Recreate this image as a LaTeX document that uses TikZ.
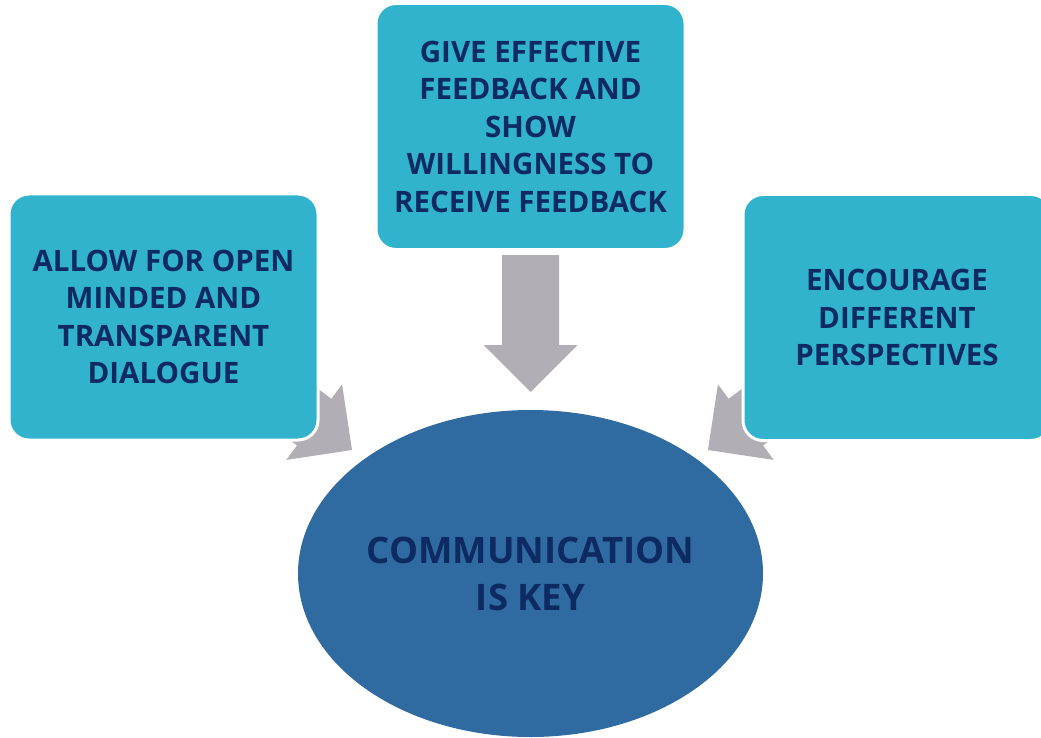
\documentclass[tikz,border=0pt]{standalone}
\usepackage{fontspec}
\setmainfont{Open Sans}
\usetikzlibrary{shapes.geometric}
\definecolor{boxcyan}{HTML}{31B3CE}
\definecolor{navy}{HTML}{0D2A62}
\definecolor{ovalblue}{HTML}{2F6BA0}
\definecolor{arrowgrey}{HTML}{B1AFB5}
\begin{document}
\begin{tikzpicture}[x=1pt,y=1pt,
  topicbox/.style={draw=white, line width=3pt, fill=boxcyan, rounded corners=20pt,
    minimum width=309pt, minimum height=246pt, inner sep=0pt, align=center,
    text=navy, font=\bfseries\fontsize{29.5}{37.5}\selectfont},
  oval/.style={ellipse, fill=ovalblue, minimum width=465pt, minimum height=327pt,
    inner sep=0pt, align=center, text=navy, font=\bfseries\fontsize{36.5}{47}\selectfont},
  blockarrow/.style={fill=arrowgrey}]
\useasboundingbox (0,0) rectangle (1041,-738);
\clip (0,0) rectangle (1041,-738);
\fill[white] (0,0) rectangle (1041,-738);
% tips of the block arrows
\coordinate (tipL) at (352,-450);
\coordinate (tipM) at (530.5,-392);
\coordinate (tipR) at (708,-450);
% block arrows (drawn first, partly hidden behind boxes)
\begin{scope}[shift={(tipL)}, rotate=-36.4]
  \fill[blockarrow] (0,0) -- (-47,47) -- (-47,29) -- (-150,29) -- (-150,-29) -- (-47,-29) -- (-47,-47) -- cycle;
\end{scope}
\begin{scope}[shift={(tipR)}, rotate=-143.6]
  \fill[blockarrow] (0,0) -- (-47,47) -- (-47,29) -- (-150,29) -- (-150,-29) -- (-47,-29) -- (-47,-47) -- cycle;
\end{scope}
\begin{scope}[shift={(tipM)}, rotate=-90]
  \fill[blockarrow] (0,0) -- (-47,47) -- (-47,28.5) -- (-137,28.5) -- (-137,-28.5) -- (-47,-28.5) -- (-47,-47) -- cycle;
\end{scope}
% ellipse
\node[oval] (key) at (530.5,-573.5) {COMMUNICATION\\IS KEY};
% boxes
\node[topicbox] (left) at (163.5,-317) {ALLOW FOR OPEN\\MINDED AND\\TRANSPARENT\\DIALOGUE};
\node[topicbox] (mid) at (530.5,-126.5) {GIVE EFFECTIVE\\FEEDBACK AND\\SHOW\\WILLINGNESS TO\\RECEIVE FEEDBACK};
\node[topicbox, minimum width=308pt] (right) at (897,-317.5) {ENCOURAGE\\DIFFERENT\\PERSPECTIVES};
\end{tikzpicture}
\end{document}
